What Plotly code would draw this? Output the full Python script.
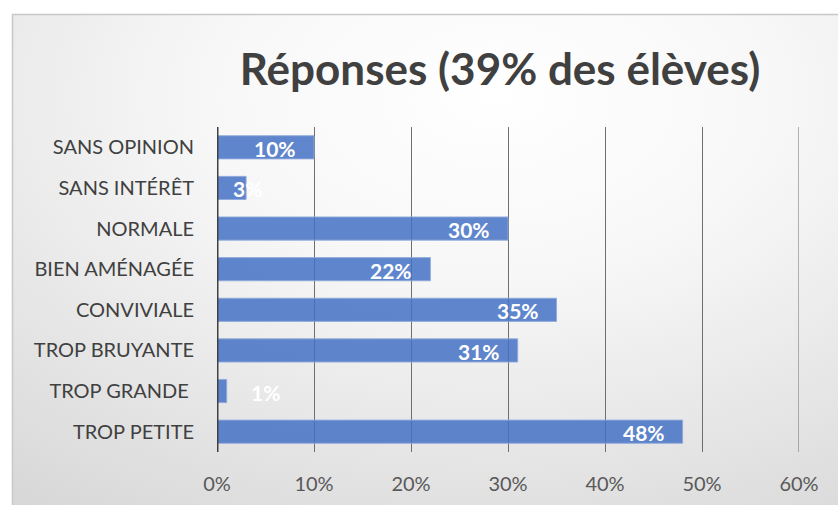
import base64
import plotly.graph_objects as go

categories = ["TROP PETITE", "TROP GRANDE ", "TROP BRUYANTE", "CONVIVIALE",
              "BIEN AMÉNAGÉE", "NORMALE", "SANS INTÉRÊT", "SANS OPINION"]
values = [0.48, 0.01, 0.31, 0.35, 0.22, 0.30, 0.03, 0.10]
labels = ["48%", "1%", "31%", "35%", "22%", "30%", "3%", "10%"]
label_anchor = ["right", "left", "right", "right", "right", "right", "center", "right"]
label_shift = [-16, 22, -16, -16, -16, -16, 1, -16]
tick_vals = [0, 0.1, 0.2, 0.3, 0.4, 0.5, 0.6]
tick_text = ["0%", "10%", "20%", "30%", "40%", "50%", "60%"]
title = "Réponses (39% des élèves)"

W, H = 838, 505
L, R, T, B = 217, 39, 127, 53
pw, ph = W - L - R, H - T - B

FONT = "Lato"

svg = f'''<svg xmlns="http://www.w3.org/2000/svg" width="{W}" height="{H}" viewBox="0 0 {W} {H}">
<defs><radialGradient id="g" cx="0.55" cy="0.15" r="0.95" gradientUnits="objectBoundingBox">
<stop offset="0" stop-color="#ffffff"/><stop offset="0.35" stop-color="#f7f7f7"/>
<stop offset="1" stop-color="#d6d6d6"/></radialGradient></defs>
<rect x="0" y="0" width="{W}" height="{H}" fill="#ffffff"/>
<rect x="12.5" y="14.5" width="{W + 40}" height="{H + 40}" fill="url(#g)" stroke="#c8c8c8" stroke-width="1.5"/>
</svg>'''
src = "data:image/svg+xml;base64," + base64.b64encode(svg.encode()).decode()

fig = go.Figure()
fig.add_trace(go.Bar(
    y=categories, x=values, orientation="h",
    marker=dict(color="rgba(68,114,196,0.85)", line=dict(color="rgba(143,170,220,0.9)", width=1)),
    width=0.57, hoverinfo="skip",
))

for c, v, t, a, s in zip(categories, values, labels, label_anchor, label_shift):
    fig.add_annotation(x=v, y=c, text=f"<b>{t}</b>", showarrow=False, xanchor=a, xshift=s,
                       yshift=-1, font=dict(family=FONT, size=21, color="white"))

fig.update_layout(
    width=W, height=H,
    margin=dict(l=L, r=R, t=T, b=B, pad=0, autoexpand=False),
    paper_bgcolor="rgba(0,0,0,0)", plot_bgcolor="rgba(0,0,0,0)",
    title=dict(text=f"<b>{title}</b>", x=(235 + 765) / 2 / W, xanchor="center",
               y=1 - 70 / H, yanchor="middle",
               font=dict(family=FONT, size=44, color="#404040")),
    showlegend=False,
    images=[dict(source=src, xref="paper", yref="paper", x=-L / pw, y=1 + T / ph,
                 sizex=W / pw, sizey=H / ph, xanchor="left", yanchor="top",
                 sizing="stretch", layer="below")],
    xaxis=dict(range=[0, 0.6], tickvals=tick_vals, ticktext=tick_text, automargin=False,
               showgrid=True, gridcolor="#6f6f6f", gridwidth=1, zeroline=False,
               showline=False, ticks="", tickfont=dict(family=FONT, size=20, color="#595959"),
               ticklabelstandoff=18, fixedrange=True),
    yaxis=dict(showgrid=False, zeroline=False, showline=False, ticks="", automargin=False,
               tickfont=dict(family=FONT, size=20, color="#404040"),
               ticklabelstandoff=22, range=[-0.5, 7.5], fixedrange=True),
    font=dict(family=FONT),
)
fig.add_shape(type="line", xref="x", yref="paper", x0=0, x1=0, y0=0, y1=1,
              line=dict(color="#404040", width=3))
fig.add_shape(type="line", xref="x", yref="paper", x0=0.6, x1=0.6, y0=0, y1=1,
              line=dict(color="#6f6f6f", width=1), layer="below")

fig.write_html("out.html", config={"displayModeBar": False},
               post_script="document.body.style.margin='0';document.body.style.overflow='hidden';")
